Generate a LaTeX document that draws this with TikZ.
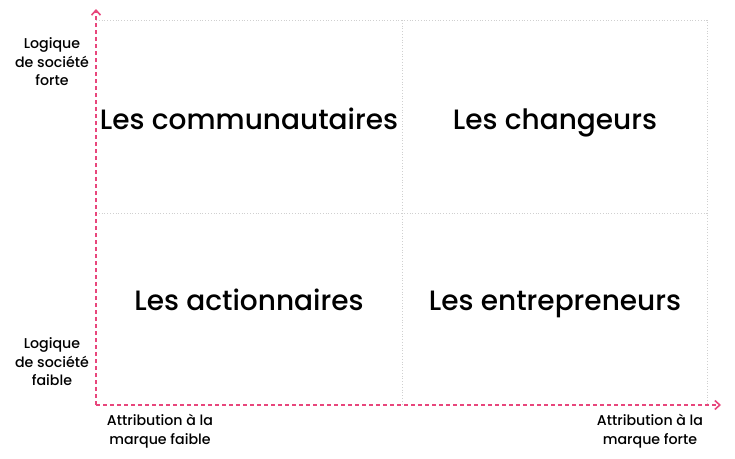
\documentclass[tikz,border=0pt]{standalone}
\usepackage{fontspec}
\setmainfont{Poppins}[UprightFont={* Medium}]
\usetikzlibrary{arrows.meta}
\definecolor{axispink}{HTML}{E8467C}
\definecolor{gridgray}{HTML}{D0D0D0}
\begin{document}
\begin{tikzpicture}[x=1pt,y=-1pt,
  axis/.style={axispink,line width=1.6pt,dash pattern=on 4pt off 3pt,-{Straight Barb[length=5pt,width=9pt,line width=1.6pt]}},
  grid/.style={gridgray,line width=0.8pt,dotted},
  quad/.style={font=\fontsize{28}{32}\selectfont,text=black,anchor=base,inner sep=0pt},
  side/.style={font=\fontsize{14.2}{18.5}\selectfont,align=center,text=black}]
\useasboundingbox (0,0) rectangle (735,458);
\coordinate (o) at (96,405);
\coordinate (ytop) at (96,9);
\coordinate (xend) at (721,405);
\coordinate (tl) at (96,20);
\coordinate (tr) at (707,20);
\coordinate (br) at (707,405);
\coordinate (tm) at (402,20);
\coordinate (bm) at (402,405);
\coordinate (ml) at (96,213);
\coordinate (mr) at (707,213);
\draw[grid] (tl) -- (tr) -- (br);
\draw[grid] (tm) -- (bm);
\draw[grid] (ml) -- (mr);
\draw[axis] (o) -- (ytop);
\draw[axis] (o) -- (xend);
\node[quad] (q1) at (249,129) {Les communautaires};
\node[quad] (q2) at (555,129) {Les changeurs};
\node[quad] (q3) at (249,310) {Les actionnaires};
\node[quad] (q4) at (555,310) {Les entrepreneurs};
\node[side] (yhi) at (52,62) {Logique\\de société\\forte};
\node[side] (ylo) at (52,362) {Logique\\de société\\faible};
\node[side] (xlo) at (160,431) {Attribution à la\\marque faible};
\node[side] (xhi) at (650,431) {Attribution à la\\marque forte};
\end{tikzpicture}
\end{document}
